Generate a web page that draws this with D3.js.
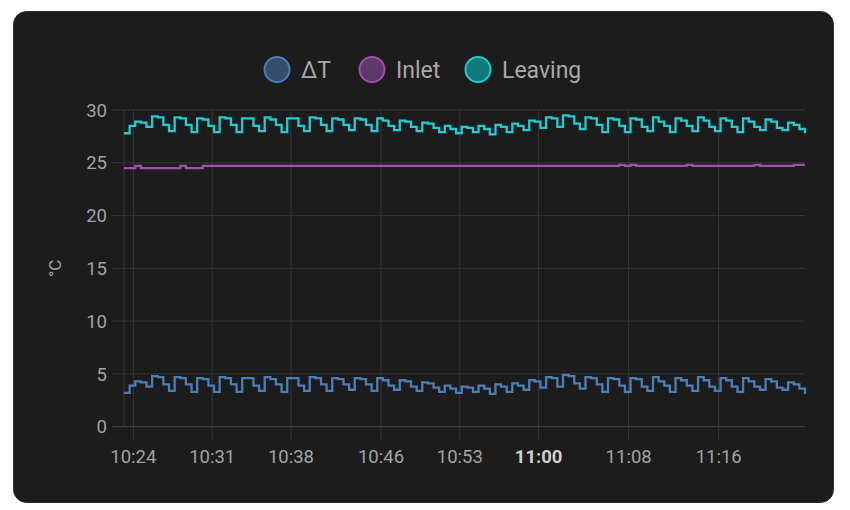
<!DOCTYPE html>
<html>
<head>
<meta charset="utf-8">
<script src="https://cdn.jsdelivr.net/npm/d3@7"></script>
<style>
  body { margin: 0; background: #ffffff; }
  svg { display: block; font-family: Roboto, "Noto Sans", sans-serif; }
  .tick-label { fill: #a3a3a3; font-size: 18.5px; }
  .legend-label { fill: #a8a8a8; font-size: 23px; }
</style>
</head>
<body>
<svg id="chart" width="850" height="510"></svg>
<script>
// samples every 30 s starting at 10:23:10
const startTime = "10:23:10"
const sampleSeconds = 30

const leaving = [
  27.8, 28.5, 28.9, 28.8, 28.4, 29.4, 29.3, 28.6, 28.0, 29.3, 29.2, 28.6, 27.9, 29.2, 29.1, 28.5,
  27.9, 29.3, 29.2, 28.6, 27.9, 29.2, 29.2, 28.5, 28.0, 29.3, 29.1, 28.6, 27.9, 29.2, 29.2, 28.5,
  28.0, 29.3, 29.2, 28.6, 28.0, 29.2, 29.1, 28.6, 28.1, 29.2, 29.1, 28.6, 28.0, 29.2, 29.0, 28.5,
  28.1, 29.0, 28.9, 28.4, 28.0, 28.8, 28.7, 28.3, 27.9, 28.5, 28.2, 27.8, 28.4, 28.3, 27.9, 28.5,
  28.2, 27.7, 28.6, 28.4, 27.9, 28.7, 28.5, 28.1, 29.0, 28.9, 28.3, 29.3, 29.2, 28.4, 29.5, 29.4,
  28.7, 28.2, 29.3, 29.2, 28.6, 27.9, 29.2, 29.1, 28.5, 27.9, 29.2, 29.1, 28.4, 28.0, 29.3, 28.9,
  28.5, 27.9, 29.2, 29.0, 28.5, 28.0, 29.3, 29.0, 28.4, 28.0, 29.2, 29.0, 28.4, 27.9, 29.2, 28.9,
  28.4, 28.1, 29.1, 28.9, 28.3, 28.1, 28.8, 28.6, 28.2, 27.8
]

const inlet = [
  24.5, 24.5, 24.7, 24.5, 24.5, 24.5, 24.5, 24.5, 24.5, 24.5, 24.7, 24.5, 24.5, 24.5, 24.7, 24.7,
  24.7, 24.7, 24.7, 24.7, 24.7, 24.7, 24.7, 24.7, 24.7, 24.7, 24.7, 24.7, 24.7, 24.7, 24.7, 24.7,
  24.7, 24.7, 24.7, 24.7, 24.7, 24.7, 24.7, 24.7, 24.7, 24.7, 24.7, 24.7, 24.7, 24.7, 24.7, 24.7,
  24.7, 24.7, 24.7, 24.7, 24.7, 24.7, 24.7, 24.7, 24.7, 24.7, 24.7, 24.7, 24.7, 24.7, 24.7, 24.7,
  24.7, 24.7, 24.7, 24.7, 24.7, 24.7, 24.7, 24.7, 24.7, 24.7, 24.7, 24.7, 24.7, 24.7, 24.7, 24.7,
  24.7, 24.7, 24.7, 24.7, 24.7, 24.7, 24.7, 24.7, 24.8, 24.7, 24.8, 24.7, 24.7, 24.7, 24.7, 24.7,
  24.7, 24.7, 24.7, 24.7, 24.8, 24.7, 24.7, 24.7, 24.7, 24.7, 24.7, 24.7, 24.7, 24.7, 24.7, 24.7,
  24.8, 24.7, 24.7, 24.7, 24.7, 24.7, 24.7, 24.8, 24.8, 24.8
]

const deltaT = [
  3.2, 3.9, 4.3, 4.2, 3.8, 4.8, 4.7, 4.0, 3.4, 4.7, 4.6, 4.0, 3.3, 4.6, 4.5, 3.9,
  3.3, 4.7, 4.6, 4.0, 3.3, 4.6, 4.6, 3.9, 3.4, 4.7, 4.5, 4.0, 3.3, 4.6, 4.6, 3.9,
  3.4, 4.7, 4.6, 4.0, 3.4, 4.6, 4.5, 4.0, 3.5, 4.6, 4.5, 4.0, 3.4, 4.6, 4.4, 3.9,
  3.5, 4.4, 4.3, 3.8, 3.4, 4.2, 4.1, 3.7, 3.3, 3.9, 3.6, 3.2, 3.8, 3.7, 3.3, 3.9,
  3.6, 3.1, 4.0, 3.8, 3.3, 4.1, 3.9, 3.5, 4.4, 4.3, 3.7, 4.7, 4.6, 3.8, 4.9, 4.8,
  4.1, 3.6, 4.7, 4.6, 4.0, 3.3, 4.6, 4.5, 3.9, 3.3, 4.6, 4.5, 3.8, 3.4, 4.7, 4.3,
  3.9, 3.3, 4.6, 4.4, 3.9, 3.4, 4.7, 4.4, 3.8, 3.4, 4.6, 4.4, 3.8, 3.3, 4.6, 4.3,
  3.8, 3.5, 4.5, 4.3, 3.7, 3.5, 4.2, 4.0, 3.6, 3.1
]

const seriesNames = ["ΔT", "Inlet", "Leaving"]
const lineColors = ["#4a7fb8", "#a24fae", "#1fcdd2"]
const dotFills = ["#344e6c", "#5e3a68", "#137a7b"]

const yTicks = [0, 5, 10, 15, 20, 25, 30]
const xTickLabels = ["10:24", "10:31", "10:38", "10:46", "10:53", "11:00", "11:08", "11:16"]
const boldTick = "11:00"
const yTitle = "°C"

const parseTime = d3.timeParse("%H:%M:%S")
const parseTick = d3.timeParse("%H:%M")
const t0 = parseTime(startTime)
const times = leaving.map((v, i) => d3.timeSecond.offset(t0, i * sampleSeconds))

const svg = d3.select("#chart")
const margin = { left: 124, right: 45, top: 110, bottom: 83.3 }
const width = +svg.attr("width")
const height = +svg.attr("height")

// card
svg.append("rect")
  .attr("x", 13.5).attr("y", 11.5)
  .attr("width", 820).attr("height", 491)
  .attr("rx", 13).attr("ry", 13)
  .attr("fill", "#1c1c1c")
  .attr("stroke", "#2c2c2c")

const x = d3.scaleTime()
  .domain([times[0], times[times.length - 1]])
  .range([margin.left, width - margin.right])

const y = d3.scaleLinear()
  .domain([0, 30])
  .range([height - margin.bottom, margin.top])

// horizontal grid
svg.append("g")
  .selectAll("line")
  .data(yTicks)
  .enter().append("line")
  .attr("x1", margin.left - 12)
  .attr("x2", width - margin.right)
  .attr("y1", d => y(d))
  .attr("y2", d => y(d))
  .attr("stroke", d => d === 0 ? "#474747" : "#383838")
  .attr("stroke-width", 1)

// left boundary of the plot
svg.append("line")
  .attr("x1", margin.left).attr("x2", margin.left)
  .attr("y1", y(30)).attr("y2", y(0))
  .attr("stroke", "#383838")

// vertical grid + ticks
const xTicks = xTickLabels.map(parseTick)
svg.append("g")
  .selectAll("line")
  .data(xTicks)
  .enter().append("line")
  .attr("x1", d => x(d))
  .attr("x2", d => x(d))
  .attr("y1", y(30))
  .attr("y2", y(0) + 13)
  .attr("stroke", "#383838")

// y labels
svg.append("g")
  .selectAll("text")
  .data(yTicks)
  .enter().append("text")
  .attr("class", "tick-label")
  .attr("x", margin.left - 17)
  .attr("y", d => y(d))
  .attr("dy", "0.36em")
  .style("text-anchor", "end")
  .text(d => d)

// x labels
svg.append("g")
  .selectAll("text")
  .data(xTickLabels)
  .enter().append("text")
  .attr("class", "tick-label")
  .attr("x", d => x(parseTick(d)))
  .attr("y", 463)
  .style("text-anchor", "middle")
  .style("font-weight", d => d === boldTick ? "bold" : "normal")
  .style("fill", d => d === boldTick ? "#cfcfcf" : null)
  .text(d => d)

// y title
svg.append("text")
  .attr("class", "tick-label")
  .attr("transform", "translate(61," + (y(15)) + ") rotate(-90)")
  .style("text-anchor", "middle")
  .style("font-size", "17px")
  .text(yTitle)

// lines
const line = d3.line()
  .curve(d3.curveStepAfter)
  .x((d, i) => x(times[i]))
  .y(d => y(d))

const seriesData = [deltaT, inlet, leaving]
svg.append("g")
  .selectAll("path")
  .data(seriesData)
  .enter().append("path")
  .attr("d", d => line(d))
  .attr("fill", "none")
  .attr("stroke", (d, i) => lineColors[i])
  .attr("stroke-width", 2.3)
  .attr("stroke-linejoin", "miter")

// legend
const legendX = [277, 372, 478]
const legend = svg.append("g")
  .selectAll("g")
  .data(seriesNames)
  .enter().append("g")
  .attr("transform", (d, i) => "translate(" + legendX[i] + ",69.5)")

legend.append("circle")
  .attr("r", 12.5)
  .attr("fill", (d, i) => dotFills[i])
  .attr("stroke", (d, i) => lineColors[i])
  .attr("stroke-width", 2)

legend.append("text")
  .attr("class", "legend-label")
  .attr("x", 24)
  .attr("y", 8.5)
  .text(d => d)
</script>
</body>
</html>
